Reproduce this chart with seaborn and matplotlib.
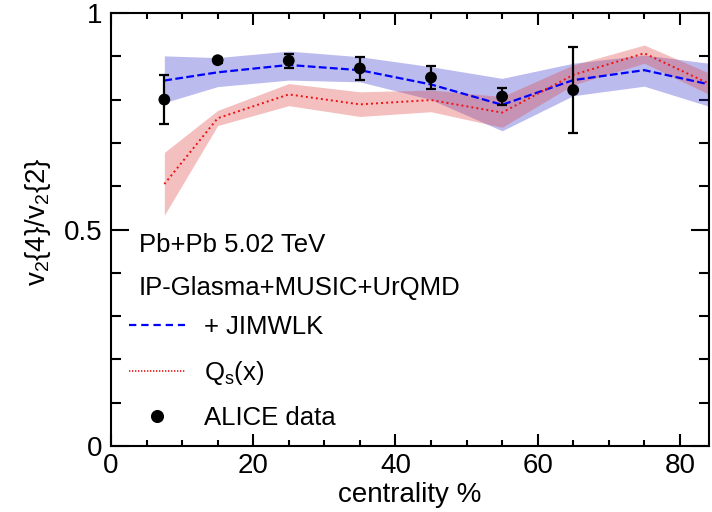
import matplotlib
matplotlib.use("Agg")
import matplotlib.pyplot as plt
import seaborn as sns
import pandas as pd
from matplotlib.lines import Line2D
from matplotlib.ticker import MultipleLocator, FuncFormatter

# ---- data ----
centrality_model = [7.5, 15, 25, 35, 45, 55, 65, 75, 85]
jimwlk_mean = [0.844, 0.863, 0.880, 0.868, 0.835, 0.788, 0.845, 0.868, 0.832]
jimwlk_low = [0.793, 0.830, 0.845, 0.841, 0.800, 0.728, 0.809, 0.831, 0.780]
jimwlk_high = [0.901, 0.897, 0.912, 0.899, 0.876, 0.849, 0.884, 0.903, 0.882]

qsx_mean = [0.605, 0.757, 0.812, 0.789, 0.799, 0.770, 0.857, 0.907, 0.830]
qsx_low = [0.533, 0.740, 0.786, 0.761, 0.772, 0.736, 0.834, 0.884, 0.805]
qsx_high = [0.678, 0.775, 0.837, 0.818, 0.822, 0.807, 0.880, 0.926, 0.855]

alice_centrality = [7.5, 15, 25, 35, 45, 55, 65]
alice_ratio = [0.800, 0.891, 0.890, 0.872, 0.851, 0.807, 0.822]
alice_err = [0.057, 0.006, 0.016, 0.026, 0.027, 0.020, 0.099]

# ---- style ----
sns.set_theme(style="ticks")
plt.rcParams['font.family'] = ['Liberation Sans', 'DejaVu Sans']
plt.rcParams['mathtext.fontset'] = 'custom'
plt.rcParams['mathtext.rm'] = 'Liberation Sans'
plt.rcParams['mathtext.it'] = 'Liberation Sans:italic'
plt.rcParams['mathtext.bf'] = 'Liberation Sans:bold'
for k in ['text.color', 'axes.labelcolor', 'xtick.color', 'ytick.color', 'axes.edgecolor']:
    plt.rcParams[k] = 'black'

fig = plt.figure(figsize=(7.12, 5.12), dpi=100)
ax = fig.add_axes([111 / 712, 1 - 446 / 512, (709 - 111) / 712, (446 - 13) / 512])

# bands
ax.fill_between(centrality_model, jimwlk_low, jimwlk_high, color='#3c3cd0', alpha=0.35, lw=0)
ax.fill_between(centrality_model, qsx_low, qsx_high, color='#e04a4a', alpha=0.35, lw=0)

df_j = pd.DataFrame({'centrality': centrality_model, 'ratio': jimwlk_mean})
df_q = pd.DataFrame({'centrality': centrality_model, 'ratio': qsx_mean})
df_a = pd.DataFrame({'centrality': alice_centrality, 'ratio': alice_ratio, 'err': alice_err})

sns.lineplot(data=df_j, x='centrality', y='ratio', ax=ax, color='#0000ff', lw=1.6,
             linestyle=(0, (3.5, 1.5)))
sns.lineplot(data=df_q, x='centrality', y='ratio', ax=ax, color='#ee1111', lw=1.4,
             linestyle=(0, (1, 1.6)))

ax.errorbar(df_a['centrality'], df_a['ratio'], yerr=df_a['err'], fmt='none',
            ecolor='black', elinewidth=1.6, capsize=3.5, capthick=1.6, zorder=4)
sns.scatterplot(data=df_a, x='centrality', y='ratio', ax=ax, color='black', s=72,
                edgecolor='none', zorder=5)

# axes
ax.set_xlim(0, 84.1)
ax.set_ylim(0, 1)
ax.xaxis.set_major_locator(MultipleLocator(20))
ax.xaxis.set_minor_locator(MultipleLocator(5))
ax.yaxis.set_major_locator(MultipleLocator(0.5))
ax.yaxis.set_minor_locator(MultipleLocator(0.1))
ax.yaxis.set_major_formatter(FuncFormatter(lambda v, p: f"{v:g}"))
ax.xaxis.set_major_formatter(FuncFormatter(lambda v, p: f"{v:g}"))

ax.tick_params(which='both', direction='in', top=True, right=True, width=1.5, color='black')
ax.tick_params(axis='x', which='major', length=8.6, labelsize=20, pad=5)
ax.tick_params(axis='x', which='minor', length=4.3)
ax.tick_params(axis='y', which='major', length=13, labelsize=20, pad=6)
ax.tick_params(axis='y', which='minor', length=7)
for sp in ax.spines.values():
    sp.set_linewidth(1.5)
    sp.set_color('black')

ax.set_xlabel('centrality %', fontsize=20)
ax.xaxis.set_label_coords(0.5, -0.083)
ax.set_ylabel(r'v$_\mathrm{2}${4}/v$_\mathrm{2}${2}', fontsize=20)
ax.yaxis.set_label_coords(-0.097, 0.517)

# text annotations
ax.text(0.047, 0.449, 'Pb+Pb 5.02 TeV', transform=ax.transAxes, fontsize=18.5, va='baseline')
ax.text(0.047, 0.349, 'IP-Glasma+MUSIC+UrQMD', transform=ax.transAxes, fontsize=18.5, va='baseline')

handles = [
    Line2D([], [], color='#0000ff', lw=1.6, linestyle=(0, (3.3, 2.2))),
    Line2D([], [], color='#ee1111', lw=1.2, linestyle=(0, (0.8, 1.0))),
    Line2D([], [], color='black', marker='o', markersize=8.4, linestyle='none'),
]
labels = ['+ JIMWLK', r'Q$_\mathrm{s}$(x)', 'ALICE data']
ax.legend(handles, labels, loc='upper left', bbox_to_anchor=(0.030, 0.302),
          frameon=False, fontsize=18.5, handlelength=2.2, handletextpad=0.72,
          borderpad=0, borderaxespad=0, labelspacing=0.75)

fig.savefig('out.png', dpi=100)
